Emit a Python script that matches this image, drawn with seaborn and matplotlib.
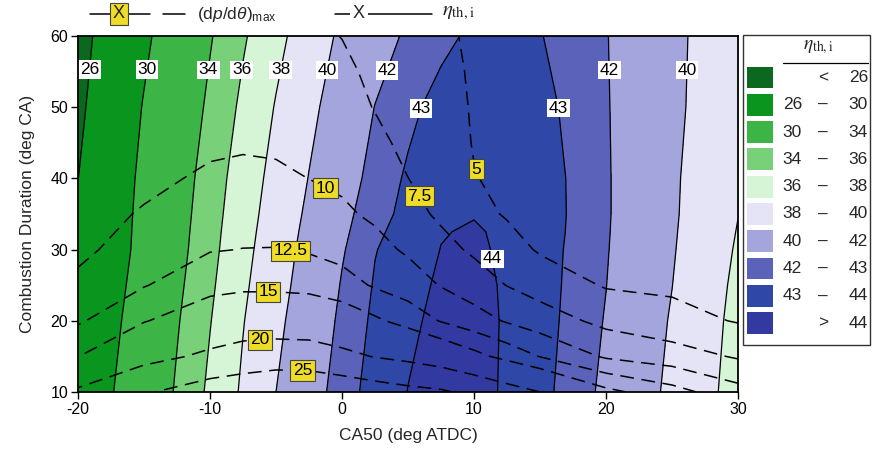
import numpy as np
import matplotlib
matplotlib.use("Agg")
import matplotlib.pyplot as plt
import seaborn as sns
from matplotlib.lines import Line2D
from matplotlib.patches import Rectangle

# ---------------------------------------------------------------------------
# Indicated thermal efficiency map (%), CA50 (deg ATDC) x combustion duration
# ---------------------------------------------------------------------------
eta_ca50 = [-20, -17.5, -15, -12.5, -10, -7.5, -5, -2.5, 0, 2.5, 5, 7.5,
            10, 12.5, 15, 17.5, 20, 22.5, 25, 27.5, 30]
eta_dur = [10, 20, 25, 30, 32.5, 35, 40, 50, 60]

eta_d10 = [27.6, 29.82, 32.04, 34.26, 36.38, 38.28, 40.0, 41.35, 42.57, 43.38, 44.02,
           44.4, 44.4, 43.84, 43.29, 42.6, 41.71, 40.69, 39.63, 38.47, 37.30]
eta_d20 = [27.0, 29.27, 31.55, 33.82, 35.92, 37.92, 39.6, 41.0, 42.27, 43.21, 43.81,
           44.25, 44.35, 43.89, 43.36, 42.74, 41.92, 40.90, 39.86, 38.67, 37.48]
eta_d25 = [26.64, 28.94, 31.24, 33.54, 35.67, 37.68, 39.35, 40.79, 42.09, 43.09, 43.67,
           44.15, 44.28, 43.88, 43.37, 42.80, 42.02, 41.02, 40.02, 38.82, 37.62]
eta_d30 = [26.28, 28.6, 30.93, 33.26, 35.42, 37.44, 39.13, 40.58, 41.89, 42.96, 43.47,
           44.02, 44.2, 43.80, 43.36, 42.85, 42.09, 41.13, 40.14, 38.99, 37.81]
eta_d32 = [26.26, 28.56, 30.85, 33.16, 35.32, 37.32, 39.0, 40.45, 41.75, 42.83, 43.36,
           43.95, 44.1, 43.82, 43.46, 42.86, 42.12, 41.18, 40.19, 39.07, 37.92]
eta_d35 = [26.23, 28.52, 30.77, 33.05, 35.21, 37.19, 38.87, 40.31, 41.61, 42.69, 43.24,
           43.65, 43.95, 43.9, 43.55, 42.86, 42.14, 41.22, 40.24, 39.14, 38.03]
eta_d40 = [25.97, 28.33, 30.62, 32.84, 35.0, 36.96, 38.63, 40.05, 41.33, 42.44, 43.14,
           43.5, 43.88, 43.85, 43.5, 42.86, 42.14, 41.23, 40.27, 39.23, 38.17]
eta_d50 = [25.43, 27.81, 30.17, 32.30, 34.42, 36.41, 38.12, 39.59, 40.86, 42.03, 42.76,
           43.35, 43.65, 43.65, 43.3, 42.76, 42.1, 41.26, 40.37, 39.49, 38.6]
eta_d60 = [25.0, 27.24, 29.47, 31.65, 33.83, 35.77, 37.47, 39.0, 40.33, 41.38, 42.21,
           42.74, 43.2, 43.4, 43.05, 42.55, 42.06, 41.25, 40.41, 39.56, 38.7]

eta_levels = [26, 30, 34, 36, 38, 40, 42, 43, 44]
eta_colors = ["#0a691e", "#0a961e", "#3cb446", "#78d078", "#d6f5d6",
              "#e4e4f6", "#a5a5de", "#5a62b9", "#2f48a8", "#3239a0"]

# label anchor points (CA50, duration) for the efficiency isolines
eta_label_ca50 = [-18.6, -14.5, -10.0, -7.5, -4.5, -1.1, 3.3, 5.9, 16.5, 11.7, 20.4, 26.1]
eta_label_dur = [55.2, 55.2, 55.2, 55.2, 55.2, 55.2, 55.2, 49.9, 49.9, 28.8, 55.2, 55.2]

# ---------------------------------------------------------------------------
# Maximum pressure rise rate (dp/dtheta)max, bar/deg
# ---------------------------------------------------------------------------
dp_ca50 = [-20, -15, -10, -7.5, -5, -2.5, 0, 2.5, 5, 7.5, 10, 12.5, 15, 20, 25, 30]
dp_dur = [10, 15, 20, 25, 30, 35, 40, 45, 50, 55, 60]

dp_d10 = [20.7, 24.5, 27.5, 28.3, 29.3, 29.2, 28.4, 27.3, 26.3, 25.6, 23.85, 21.8, 20.0, 15.69, 13.44, 10.9]
dp_d15 = [14.94, 18.56, 20.83, 21.9, 22.36, 22.2, 21.03, 19.82, 18.9, 17.6, 15.83, 14.13, 12.41, 9.67, 8.67, 7.24]
dp_d20 = [12.18, 14.84, 16.9, 17.5, 17.54, 17.42, 16.74, 15.44, 14.02, 12.35, 11.08, 9.76, 8.72, 6.83, 5.80, 4.85]
dp_d25 = [10.6, 12.37, 14.13, 14.43, 14.41, 14.22, 13.5, 12.23, 11.27, 9.87, 8.71, 7.44, 6.46, 4.8, 4.6, 4.4]
dp_d30 = [9.4, 11.30, 12.37, 12.54, 12.57, 12.27, 11.67, 10.74, 9.66, 8.27, 7.13, 5.95, 4.75, 4.4, 4.2, 4.0]
dp_d35 = [8.9, 10.24, 11.4, 11.56, 11.5, 11.14, 10.36, 9.62, 8.3, 7.1, 5.7, 4.8, 4.35, 4.2, 4.0, 3.8]
dp_d40 = [8.6, 9.35, 10.44, 10.61, 10.46, 9.98, 9.61, 8.86, 7.52, 6.5, 5.08, 4.6, 4.3, 4.1, 3.9, 3.7]
dp_d45 = [8.4, 9.0, 9.5, 9.7, 9.6, 9.45, 9.07, 8.1, 6.9, 6.0, 4.9, 4.5, 4.3, 4.05, 3.85, 3.65]
dp_d50 = [8.2, 8.7, 9.1, 9.3, 9.2, 8.95, 8.53, 7.39, 6.6, 5.7, 4.85, 4.45, 4.3, 4.0, 3.8, 3.6]
dp_d55 = [8.1, 8.5, 8.8, 8.9, 8.75, 8.45, 7.99, 7.0, 6.35, 5.5, 4.8, 4.4, 4.3, 4.0, 3.8, 3.6]
dp_d60 = [8.0, 8.3, 8.5, 8.5, 8.3, 7.95, 7.45, 6.7, 6.1, 5.35, 4.7, 4.4, 4.3, 4.0, 3.8, 3.6]

dp_levels = [5, 7.5, 10, 12.5, 15, 20, 25]
dp_label_ca50 = [10.0, 5.4, -1.3, -3.9, -5.6, -6.2, -3.0]
dp_label_dur = [41.2, 37.0, 38.4, 29.9, 23.3, 16.6, 13.1]

x_ticks = [-20, -10, 0, 10, 20, 30]
y_ticks = [10, 20, 30, 40, 50, 60]

YELLOW = "#eedc26"

# ---------------------------------------------------------------------------
sns.set_theme(style="ticks", rc={"axes.edgecolor": "black", "xtick.color": "black",
                                 "ytick.color": "black", "axes.linewidth": 1.2})
plt.rcParams["font.family"] = ["Liberation Sans", "DejaVu Sans"]
plt.rcParams["mathtext.fontset"] = "custom"
plt.rcParams["mathtext.rm"] = "Liberation Sans"
plt.rcParams["mathtext.it"] = "Liberation Sans:italic"
plt.rcParams["axes.unicode_minus"] = False

W, H = 872, 454
fig = plt.figure(figsize=(W / 100, H / 100), dpi=100)
fig.patch.set_facecolor("white")


def fx(px):
    return px / W


def fy(py):
    return 1 - py / H


ax = fig.add_axes([fx(78), fy(392), (738 - 78) / W, (392 - 36) / H])

eta_grid = np.array([eta_d10, eta_d20, eta_d25, eta_d30, eta_d32, eta_d35,
                     eta_d40, eta_d50, eta_d60])
dp_grid = np.array([dp_d10, dp_d15, dp_d20, dp_d25, dp_d30, dp_d35, dp_d40,
                    dp_d45, dp_d50, dp_d55, dp_d60])

fill_levels = [0] + eta_levels + [100]
ax.contourf(eta_ca50, eta_dur, eta_grid, levels=fill_levels, colors=eta_colors)
cs = ax.contour(eta_ca50, eta_dur, eta_grid, levels=eta_levels, colors="black",
                linewidths=0.9)
ds = ax.contour(dp_ca50, dp_dur, dp_grid, levels=dp_levels, colors="black",
                linewidths=1.1)
ds.set_linestyle((0, (9, 5)))

eta_txt = ax.clabel(cs, levels=eta_levels, inline=False, fmt="%g", fontsize=12.5,
                    manual=list(zip(eta_label_ca50, eta_label_dur)))
for t in eta_txt:
    t.set_rotation(0)
    t.set_color("black")
    t.set_bbox(dict(boxstyle="square,pad=0.1", fc="white", ec="none"))
    t.set_zorder(6)

dp_txt = ax.clabel(ds, levels=dp_levels, inline=False, fmt="%g", fontsize=12.5,
                   manual=list(zip(dp_label_ca50, dp_label_dur)))
for t in dp_txt:
    t.set_rotation(0)
    t.set_color("black")
    t.set_bbox(dict(boxstyle="square,pad=0.15", fc=YELLOW, ec="#444444", lw=0.8))
    t.set_zorder(6)

ax.set_xlim(-20, 30)
ax.set_ylim(10, 60)
ax.set_xticks(x_ticks)
ax.set_yticks(y_ticks)
ax.tick_params(direction="out", length=5, width=1, labelsize=11.5, pad=2)
for s in ax.spines.values():
    s.set_linewidth(1.3)
    s.set_zorder(10)
ax.set_xlabel("CA50 (deg ATDC)", fontsize=12.5, labelpad=8)
ax.set_ylabel("Combustion Duration (deg CA)", fontsize=12.5, labelpad=11)

# ---- key for the two line types above the map ----
yk = fy(14)
fig.add_artist(Line2D([fx(90), fx(150)], [yk, yk], color="black", lw=1.1,
                      transform=fig.transFigure))
fig.add_artist(Line2D([fx(163), fx(185)], [yk, yk], color="black", lw=1.1,
                      transform=fig.transFigure))
fig.text(fx(119), yk, "X", ha="center", va="center", fontsize=13,
         bbox=dict(boxstyle="square,pad=0.15", fc=YELLOW, ec="#444444", lw=0.8))
fig.text(fx(197), yk, r"(d$p$/d$\theta$)$_{\mathrm{max}}$", ha="left", va="center",
         fontsize=12.5)
fig.add_artist(Line2D([fx(335), fx(432)], [yk, yk], color="black", lw=1.1,
                      transform=fig.transFigure))
fig.text(fx(359), yk, "X", ha="center", va="center", fontsize=13,
         bbox=dict(boxstyle="square,pad=0.15", fc="white", ec="none"))
fig.text(fx(442), yk + 0.004, r"$\eta_{\mathrm{th,i}}$", ha="left", va="center",
         fontsize=15, math_fontfamily="stix")

# ---- efficiency band legend ----
fig.add_artist(Rectangle((fx(743), fy(345)), (870 - 743) / W, (345 - 35) / H,
                         transform=fig.transFigure, fill=False, ec="#333333", lw=1))
fig.text(fx(818), fy(47), r"$\eta_{\mathrm{th,i}}$", ha="center", va="center",
         fontsize=14, math_fontfamily="stix")
fig.add_artist(Line2D([fx(783), fx(868)], [fy(63), fy(63)], color="black", lw=0.9,
                      transform=fig.transFigure))

band_lo = [None] + eta_levels
band_hi = eta_levels + [None]
for i, (lo, hi, col) in enumerate(zip(band_lo, band_hi, eta_colors)):
    yc = 77.5 + 27.3 * i
    fig.add_artist(Rectangle((fx(747), fy(yc + 10.8)), 26 / W, 21.7 / H,
                             transform=fig.transFigure, fc=col, ec="none"))
    if lo is None:
        fig.text(fx(823), fy(yc), "<", ha="center", va="center", fontsize=12.5)
        fig.text(fx(868), fy(yc), f"{hi}", ha="right", va="center", fontsize=12.5)
    elif hi is None:
        fig.text(fx(823), fy(yc), ">", ha="center", va="center", fontsize=12.5)
        fig.text(fx(868), fy(yc), f"{lo}", ha="right", va="center", fontsize=12.5)
    else:
        fig.text(fx(802), fy(yc), f"{lo}", ha="right", va="center", fontsize=12.5)
        fig.text(fx(823), fy(yc), "\u2013", ha="center", va="center", fontsize=12.5)
        fig.text(fx(868), fy(yc), f"{hi}", ha="right", va="center", fontsize=12.5)

fig.savefig("out.png", dpi=100, facecolor="white")
